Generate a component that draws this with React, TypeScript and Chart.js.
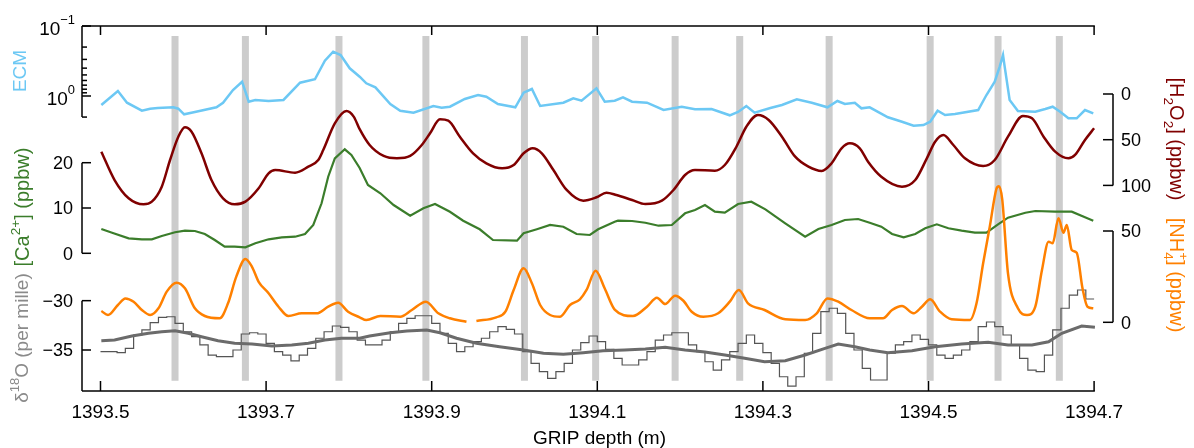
import React, { useEffect, useRef } from "react";
import { Chart, registerables } from "chart.js";

Chart.register(...registerables);

// ---------------- data ----------------
const X_TICKS = [1393.5, 1393.7, 1393.9, 1394.1, 1394.3, 1394.5, 1394.7];
const X_TICK_LABELS = ["1393.5", "1393.7", "1393.9", "1394.1", "1394.3", "1394.5", "1394.7"];
const X_TITLE = "GRIP depth (m)";

const BAND_DEPTHS = [1393.59, 1393.675, 1393.788, 1393.893, 1394.012, 1394.098, 1394.194, 1394.272, 1394.38, 1394.502, 1394.584, 1394.658];

const ECM_MAJOR_TICKS = [0.1, 1];
const ECM_MINOR_TICKS = [0.2, 0.3, 0.4, 0.5, 0.6, 0.7, 0.8, 0.9, 2];
const ECM_AXIS_RANGE = [0.1, 2];
const H2O2_TICKS = [0, 50, 100];
const CA_TICKS = [0, 10, 20];
const NH4_TICKS = [0, 50];
const D18O_TICKS = [-30, -35];

const ECM: [number, number][] = [
  [1393.501, 1.345], [1393.521, 0.849], [1393.532, 1.247], [1393.55, 1.622], [1393.56, 1.518], [1393.569, 1.484],
  [1393.588, 1.45], [1393.594, 1.518], [1393.601, 1.825], [1393.614, 1.693], [1393.64, 1.45], [1393.648, 1.247],
  [1393.66, 0.821], [1393.671, 0.625], [1393.679, 1.206], [1393.687, 1.14], [1393.703, 1.179], [1393.721, 1.14],
  [1393.741, 0.646], [1393.759, 0.577], [1393.771, 0.313], [1393.781, 0.233], [1393.79, 0.26], [1393.801, 0.402],
  [1393.813, 0.53], [1393.821, 0.659], [1393.832, 0.751], [1393.85, 1.301], [1393.862, 1.622], [1393.878, 1.733],
  [1393.902, 1.389], [1393.912, 1.469], [1393.922, 1.422], [1393.94, 1.104], [1393.956, 0.968], [1393.966, 1.023],
  [1393.98, 1.301], [1394.001, 1.45], [1394.011, 0.897], [1394.021, 0.794], [1394.031, 1.389], [1394.059, 1.247],
  [1394.071, 1.079], [1394.081, 1.167], [1394.099, 0.776], [1394.109, 1.206], [1394.121, 1.167], [1394.131, 1.044],
  [1394.142, 1.206], [1394.16, 1.247], [1394.18, 1.585], [1394.202, 1.422], [1394.218, 1.549], [1394.238, 1.533],
  [1394.26, 1.887], [1394.27, 1.693], [1394.28, 1.389], [1394.29, 1.733], [1394.309, 1.484], [1394.323, 1.345],
  [1394.341, 1.115], [1394.359, 1.247], [1394.378, 1.45], [1394.39, 1.179], [1394.399, 1.301], [1394.411, 1.247],
  [1394.419, 1.5], [1394.429, 1.45], [1394.451, 2.015], [1394.468, 2.329], [1394.482, 2.655], [1394.494, 2.596],
  [1394.502, 2.329], [1394.511, 1.622], [1394.52, 1.868], [1394.532, 1.807], [1394.56, 1.585], [1394.57, 0.968],
  [1394.58, 0.625], [1394.586, 0.381], [1394.59, 0.26], [1394.592, 0.381], [1394.598, 1.14], [1394.608, 1.637],
  [1394.629, 1.675], [1394.641, 1.533], [1394.65, 1.422], [1394.659, 1.675], [1394.669, 2.083], [1394.679, 2.083],
  [1394.689, 1.585], [1394.699, 1.767],
];

const H2O2: [number, number][] = [
  [1393.501, 63.1], [1393.517, 94.1], [1393.534, 114.1], [1393.552, 120.7], [1393.562, 117.8], [1393.574, 101.4],
  [1393.584, 72.2], [1393.594, 46.7], [1393.602, 36.4], [1393.61, 41.2], [1393.622, 64.9], [1393.634, 94.1],
  [1393.648, 114.1], [1393.662, 120.7], [1393.675, 117.8], [1393.691, 103.2], [1393.703, 86.8], [1393.711, 83.2],
  [1393.735, 86.1], [1393.751, 79.5], [1393.763, 72.2], [1393.769, 61.3], [1393.783, 32.1], [1393.797, 18.6],
  [1393.806, 25.0], [1393.813, 38.5], [1393.825, 55.8], [1393.842, 67.8], [1393.858, 70.4], [1393.874, 67.8],
  [1393.888, 55.8], [1393.898, 43.0], [1393.91, 27.7], [1393.92, 29.2], [1393.934, 46.7], [1393.95, 64.9],
  [1393.966, 75.8], [1393.985, 81.3], [1393.999, 77.7], [1394.011, 64.9], [1394.022, 59.4], [1394.033, 64.9],
  [1394.047, 83.2], [1394.063, 105.0], [1394.083, 116.7], [1394.099, 113.0], [1394.111, 108.0], [1394.123, 110.5],
  [1394.142, 116.0], [1394.158, 120.4], [1394.178, 116.7], [1394.192, 105.0], [1394.206, 88.6], [1394.218, 83.2],
  [1394.242, 83.9], [1394.254, 77.7], [1394.268, 57.7], [1394.28, 35.8], [1394.294, 23.0], [1394.307, 28.4],
  [1394.323, 46.7], [1394.339, 68.6], [1394.355, 79.5], [1394.371, 84.2], [1394.383, 75.8], [1394.395, 59.4],
  [1394.405, 53.9], [1394.417, 59.4], [1394.427, 74.1], [1394.443, 90.5], [1394.468, 101.4], [1394.484, 94.1],
  [1394.498, 70.4], [1394.508, 52.2], [1394.518, 44.9], [1394.53, 55.8], [1394.544, 70.4], [1394.566, 78.8],
  [1394.58, 72.2], [1394.596, 46.7], [1394.614, 24.1], [1394.625, 26.6], [1394.639, 46.7], [1394.653, 63.1],
  [1394.669, 70.4], [1394.677, 66.7], [1394.689, 50.3], [1394.7, 37.5],
];

const CA: [number, number][] = [
  [1393.501, 5.36], [1393.514, 4.55], [1393.534, 3.31], [1393.55, 3.09], [1393.562, 3.09], [1393.574, 3.82],
  [1393.59, 4.64], [1393.602, 4.99], [1393.614, 4.92], [1393.626, 4.26], [1393.638, 2.94], [1393.65, 1.46],
  [1393.662, 1.46], [1393.675, 1.32], [1393.687, 2.21], [1393.703, 3.09], [1393.719, 3.53], [1393.735, 3.66],
  [1393.747, 4.26], [1393.757, 6.25], [1393.767, 11.04], [1393.775, 16.91], [1393.783, 20.97], [1393.795, 22.96],
  [1393.803, 21.7], [1393.813, 18.83], [1393.823, 15.08], [1393.838, 13.25], [1393.854, 10.66], [1393.874, 8.3],
  [1393.89, 9.93], [1393.904, 10.88], [1393.922, 9.18], [1393.938, 7.2], [1393.958, 5.3], [1393.974, 2.94],
  [1394.003, 2.78], [1394.011, 4.42], [1394.027, 5.3], [1394.043, 6.25], [1394.059, 5.87], [1394.075, 4.26],
  [1394.091, 4.04], [1394.101, 5.3], [1394.121, 6.98], [1394.125, 7.2], [1394.142, 7.13], [1394.158, 6.75],
  [1394.174, 6.09], [1394.19, 6.25], [1394.206, 8.83], [1394.218, 9.56], [1394.23, 10.66], [1394.242, 9.18],
  [1394.254, 8.96], [1394.27, 10.88], [1394.286, 11.39], [1394.303, 9.71], [1394.327, 6.62], [1394.351, 3.66],
  [1394.367, 5.36], [1394.383, 6.25], [1394.399, 7.35], [1394.415, 7.57], [1394.429, 6.75], [1394.443, 5.87],
  [1394.456, 4.26], [1394.47, 3.53], [1394.484, 4.26], [1394.496, 5.52], [1394.51, 6.4], [1394.524, 5.52],
  [1394.54, 4.99], [1394.556, 4.55], [1394.57, 4.55], [1394.584, 6.4], [1394.596, 7.86], [1394.617, 8.96],
  [1394.629, 9.34], [1394.653, 9.18], [1394.673, 9.18], [1394.689, 7.95], [1394.699, 7.2],
];

const NH4: [number, number | null][] = [
  [1393.501, 6.19], [1393.509, 4.0], [1393.521, 9.47], [1393.53, 13.1], [1393.54, 11.3], [1393.55, 6.74],
  [1393.56, 4.0], [1393.57, 7.67], [1393.58, 16.8], [1393.592, 21.7], [1393.602, 18.6], [1393.614, 7.67],
  [1393.626, 3.45], [1393.644, 2.19], [1393.654, 10.4], [1393.664, 25.0], [1393.675, 34.7], [1393.683, 30.4],
  [1393.691, 22.2], [1393.703, 15.9], [1393.715, 8.54], [1393.727, 3.45], [1393.743, 4.93], [1393.761, 4.93],
  [1393.775, 8.54], [1393.787, 10.7], [1393.799, 5.8], [1393.813, 2.74], [1393.821, 1.26], [1393.838, 3.45],
  [1393.862, 3.07], [1393.876, 6.74], [1393.893, 11.3], [1393.908, 4.93], [1393.922, 2.19], [1393.942, 0.33],
  [1393.948, null],
  [1393.954, 0.71], [1393.978, 2.74], [1393.989, 5.8], [1393.999, 17.7], [1394.011, 29.6], [1394.021, 21.4],
  [1394.031, 9.47], [1394.043, 4.0], [1394.055, 3.07], [1394.067, 9.47], [1394.079, 12.6], [1394.087, 17.7],
  [1394.098, 28.3], [1394.109, 18.5], [1394.121, 7.0], [1394.143, 3.45], [1394.16, 8.54], [1394.172, 13.5],
  [1394.182, 10.0], [1394.194, 14.6], [1394.204, 11.8], [1394.214, 5.8], [1394.228, 3.07], [1394.246, 4.93],
  [1394.26, 11.3], [1394.271, 17.7], [1394.282, 10.4], [1394.302, 6.74], [1394.327, 1.64], [1394.351, 1.26],
  [1394.365, 4.93], [1394.378, 13.1], [1394.391, 11.3], [1394.407, 6.74], [1394.429, 2.19], [1394.445, 2.19],
  [1394.456, 6.74], [1394.468, 8.93], [1394.482, 4.93], [1394.492, 8.54], [1394.502, 12.6], [1394.514, 5.8],
  [1394.528, 1.64], [1394.55, 1.26], [1394.558, 10.4], [1394.566, 32.3], [1394.574, 52.4], [1394.582, 73.0],
  [1394.585, 74.5], [1394.589, 67.5], [1394.596, 26.8], [1394.608, 7.67], [1394.619, 4.0], [1394.629, 8.54],
  [1394.637, 28.5], [1394.645, 44.1], [1394.65, 43.3], [1394.657, 57.0], [1394.663, 49.1], [1394.667, 53.3],
  [1394.673, 39.6], [1394.679, 38.1], [1394.686, 18.6], [1394.692, 8.54], [1394.699, 7.67],
];

const D18O_SMOOTH: [number, number][] = [
  [1393.501, -34.06], [1393.517, -33.99], [1393.538, -33.58], [1393.558, -33.31], [1393.574, -33.15], [1393.59, -33.04],
  [1393.606, -33.31], [1393.622, -33.65], [1393.642, -34.06], [1393.662, -34.32], [1393.683, -34.39], [1393.707, -34.59],
  [1393.731, -34.49], [1393.751, -34.32], [1393.771, -33.99], [1393.791, -33.81], [1393.813, -33.81], [1393.825, -33.58],
  [1393.85, -33.25], [1393.87, -33.07], [1393.894, -32.97], [1393.91, -33.25], [1393.93, -33.81], [1393.954, -34.32],
  [1393.982, -34.67], [1394.011, -35.0], [1394.035, -35.33], [1394.059, -35.44], [1394.083, -35.27], [1394.107, -35.07],
  [1394.133, -35.0], [1394.158, -34.9], [1394.182, -34.73], [1394.206, -35.0], [1394.23, -35.2], [1394.254, -35.51],
  [1394.278, -35.84], [1394.302, -36.19], [1394.327, -36.08], [1394.351, -35.51], [1394.375, -34.83], [1394.391, -34.39],
  [1394.411, -34.67], [1394.429, -35.0], [1394.451, -35.27], [1394.48, -35.07], [1394.508, -34.67], [1394.54, -34.39],
  [1394.572, -34.22], [1394.596, -34.49], [1394.625, -34.49], [1394.645, -34.16], [1394.661, -33.31], [1394.685, -32.57],
  [1394.701, -32.7],
];

// 1 cm samples starting at 1393.50 m
const D18O_STEP_START = 1393.5;
const D18O_STEP_SIZE = 0.01;
const D18O_STEP: number[] = [
  -35.17, -35.17, -35.27, -34.83, -33.48, -32.97, -32.23, -31.69, -31.63, -32.3,
  -33.15, -33.65, -34.49, -35.51, -35.68, -35.68, -35.0, -33.38, -33.25, -33.38,
  -34.32, -35.17, -35.51, -36.11, -35.51, -34.83, -33.81, -33.15, -32.57, -32.7,
  -33.15, -33.99, -34.49, -34.49, -33.99, -33.15, -32.3, -31.79, -31.53, -31.53,
  -32.3, -33.31, -34.32, -35.17, -34.67, -34.16, -33.81, -33.15, -32.64, -32.9,
  -33.38, -35.17, -36.35, -37.2, -37.87, -37.2, -36.35, -35.0, -34.26, -33.58,
  -34.16, -34.93, -35.84, -36.52, -36.52, -36.01, -35.17, -33.99, -33.48, -33.25,
  -33.25, -34.49, -35.17, -36.19, -37.03, -36.01, -35.17, -34.32, -33.48, -34.32,
  -35.27, -36.35, -37.71, -38.65, -37.71, -35.33, -33.31, -31.12, -30.77, -31.28,
  -33.31, -35.0, -36.86, -38.04, -38.04, -35.33, -34.49, -34.16, -33.48, -33.92,
  -34.49, -35.51, -35.84, -35.51, -35.0, -34.16, -32.64, -32.16, -32.64, -33.48,
  -34.49, -35.84, -37.03, -37.2, -35.51, -32.97, -30.77, -29.43, -28.92, -29.83,
];

// ---------------- style ----------------
const FONT = '"Liberation Sans", Arial, Helvetica, sans-serif';
const C_ECM = "#6cc8f4";
const C_H2O2 = "#800000";
const C_CA = "#3b7d2b";
const C_NH4 = "#ff8000";
const C_D18O = "#6b6b6b";
const C_D18O_RAW = "#555555";
const C_D18O_TITLE = "#8a8a8a";
const C_BAND = "#cccccc";

type Seg = { t: string; s?: number; dy?: number; adv?: boolean };

function drawRich(
  ctx: CanvasRenderingContext2D,
  segs: Seg[],
  x: number,
  y: number,
  angle: number,
  size: number,
  color: string,
  align: "left" | "center" | "right" = "center"
) {
  ctx.save();
  ctx.translate(x, y);
  ctx.rotate(angle);
  ctx.fillStyle = color;
  ctx.textBaseline = "alphabetic";
  ctx.textAlign = "left";
  const widths = segs.map((sg) => {
    ctx.font = `${(sg.s ?? 1) * size}px ${FONT}`;
    return ctx.measureText(sg.t).width;
  });
  let cx = 0;
  let maxX = 0;
  const xs: number[] = [];
  segs.forEach((sg, i) => {
    xs.push(cx);
    const end = cx + widths[i];
    if (end > maxX) maxX = end;
    if (sg.adv !== false) cx = end;
  });
  const total = Math.max(cx, maxX);
  const start = align === "center" ? -total / 2 : align === "right" ? -total : 0;
  const base = size * 0.36;
  segs.forEach((sg, i) => {
    ctx.font = `${(sg.s ?? 1) * size}px ${FONT}`;
    ctx.fillText(sg.t, start + xs[i], base + (sg.dy ?? 0) * size);
  });
  ctx.restore();
}

const framePlugin = {
  id: "frame",
  afterDraw(chart: any) {
    const ctx: CanvasRenderingContext2D = chart.ctx;
    const { left: L, right: R, top: T, bottom: B } = chart.chartArea;
    const sx = chart.scales.x;
    const sE = chart.scales.yECM;
    const sH = chart.scales.yH2O2;
    const sC = chart.scales.yCa;
    const sN = chart.scales.yNH4;
    const sD = chart.scales.yD18O;
    const xEnd = sx.getPixelForValue(X_TICKS[X_TICKS.length - 1]);

    ctx.save();
    ctx.strokeStyle = "#000";
    ctx.lineWidth = 1.5;
    ctx.lineCap = "butt";
    const line = (x1: number, y1: number, x2: number, y2: number) => {
      ctx.beginPath();
      ctx.moveTo(x1, y1);
      ctx.lineTo(x2, y2);
      ctx.stroke();
    };

    // top & bottom x axes
    line(L, T, xEnd + 0.75, T);
    line(L, B, xEnd + 0.75, B);
    X_TICKS.forEach((v, i) => {
      const px = sx.getPixelForValue(v);
      line(px, T, px, T + 9);
      line(px, B, px, B - 10);
      drawRich(ctx, [{ t: X_TICK_LABELS[i] }], px, B + 20, 0, 19, "#000");
    });
    drawRich(ctx, [{ t: X_TITLE }], (L + R) / 2 + 2, B + 46, 0, 19, "#000");

    // ECM axis (left, log, reversed)
    line(L, sE.getPixelForValue(ECM_AXIS_RANGE[0]), L, sE.getPixelForValue(ECM_AXIS_RANGE[1]));
    ECM_MAJOR_TICKS.forEach((v) => {
      const py = sE.getPixelForValue(v);
      line(L, py, L + 9, py);
      const exp = Math.round(Math.log10(v));
      drawRich(
        ctx,
        [{ t: "10" }, { t: exp < 0 ? "\u2212" + Math.abs(exp) : String(exp), s: 0.68, dy: -0.55 }],
        L - 7,
        py + 2,
        0,
        19,
        "#000",
        "right"
      );
    });
    ECM_MINOR_TICKS.forEach((v) => {
      const py = sE.getPixelForValue(v);
      line(L, py, L + 5, py);
    });

    // Ca axis (left)
    line(L, sC.getPixelForValue(CA_TICKS[CA_TICKS.length - 1]), L, sC.getPixelForValue(CA_TICKS[0]));
    CA_TICKS.forEach((v) => {
      const py = sC.getPixelForValue(v);
      line(L, py, L + 9, py);
      drawRich(ctx, [{ t: String(v) }], L - 9, py, 0, 18, "#000", "right");
    });

    // d18O axis (left)
    line(L, sD.getPixelForValue(D18O_TICKS[0]), L, B);
    D18O_TICKS.forEach((v) => {
      const py = sD.getPixelForValue(v);
      line(L, py, L + 9, py);
      drawRich(ctx, [{ t: (v < 0 ? "\u2212" : "") + Math.abs(v) }], L - 9, py, 0, 18, "#000", "right");
    });

    // H2O2 axis (right, reversed)
    line(R, sH.getPixelForValue(H2O2_TICKS[0]), R, sH.getPixelForValue(H2O2_TICKS[H2O2_TICKS.length - 1]));
    H2O2_TICKS.forEach((v) => {
      const py = sH.getPixelForValue(v);
      line(R, py, R - 10, py);
      drawRich(ctx, [{ t: String(v) }], R + 8, py, 0, 18, "#000", "left");
    });

    // NH4 axis (right)
    line(R, sN.getPixelForValue(NH4_TICKS[NH4_TICKS.length - 1]), R, sN.getPixelForValue(NH4_TICKS[0]));
    NH4_TICKS.forEach((v) => {
      const py = sN.getPixelForValue(v);
      line(R, py, R - 10, py);
      drawRich(ctx, [{ t: String(v) }], R + 8, py, 0, 18, "#000", "left");
    });

    // axis titles
    drawRich(ctx, [{ t: "ECM" }], 19, 71, -Math.PI / 2, 19, C_ECM);
    drawRich(
      ctx,
      [{ t: "[Ca" }, { t: "2+", s: 0.68, dy: -0.45 }, { t: "] (ppbw)" }],
      22,
      207,
      -Math.PI / 2,
      20,
      C_CA
    );
    drawRich(
      ctx,
      [{ t: "\u03b4" }, { t: "18", s: 0.68, dy: -0.45 }, { t: "O (per mille)" }],
      21,
      338,
      -Math.PI / 2,
      19,
      C_D18O_TITLE
    );
    drawRich(
      ctx,
      [{ t: "[H" }, { t: "2", s: 0.68, dy: 0.3 }, { t: "O" }, { t: "2", s: 0.68, dy: 0.3 }, { t: "] (ppbw)" }],
      1177,
      139,
      Math.PI / 2,
      20,
      C_H2O2
    );
    drawRich(
      ctx,
      [{ t: "[NH" }, { t: "4", s: 0.68, dy: 0.3, adv: false }, { t: "+", s: 0.68, dy: -0.45 }, { t: "] (ppbw)" }],
      1177,
      275,
      Math.PI / 2,
      20,
      C_NH4
    );
    ctx.restore();
  },
};

export default function App() {
  const canvasRef = useRef<HTMLCanvasElement | null>(null);

  useEffect(() => {
    const canvas = canvasRef.current;
    if (!canvas) return;

    const bandData: { x: number; y: number | null }[] = [];
    BAND_DEPTHS.forEach((d) => {
      bandData.push({ x: d, y: 0.9726 });
      bandData.push({ x: d, y: 0.0282 });
      bandData.push({ x: d, y: null });
    });

    const stepData = D18O_STEP.map((v, i) => ({ x: D18O_STEP_START + i * D18O_STEP_SIZE, y: v }));
    stepData.push({ x: D18O_STEP_START + D18O_STEP.length * D18O_STEP_SIZE, y: D18O_STEP[D18O_STEP.length - 1] });

    const toXY = (arr: [number, number | null][]) => arr.map(([x, y]) => ({ x, y }));

    const common = { pointRadius: 0, pointHoverRadius: 0, fill: false, spanGaps: false };

    const chart = new Chart(canvas, {
      type: "line",
      data: {
        datasets: [
          { ...common, label: "ECM", data: toXY(ECM), yAxisID: "yECM", borderColor: C_ECM, borderWidth: 2.5, tension: 0 },
          { ...common, label: "H2O2", data: toXY(H2O2), yAxisID: "yH2O2", borderColor: C_H2O2, borderWidth: 2.5, cubicInterpolationMode: "monotone" },
          { ...common, label: "NH4", data: toXY(NH4), yAxisID: "yNH4", borderColor: C_NH4, borderWidth: 2.5, cubicInterpolationMode: "monotone" },
          { ...common, label: "Ca", data: toXY(CA), yAxisID: "yCa", borderColor: C_CA, borderWidth: 2.2, tension: 0 },
          { ...common, label: "d18O smooth", data: toXY(D18O_SMOOTH), yAxisID: "yD18O", borderColor: C_D18O, borderWidth: 3, tension: 0 },
          { ...common, label: "d18O", data: stepData, yAxisID: "yD18O", borderColor: C_D18O_RAW, borderWidth: 1.2, stepped: true, tension: 0 },
          { ...common, label: "bands", data: bandData, yAxisID: "yBand", borderColor: C_BAND, borderWidth: 7, borderCapStyle: "butt", tension: 0 },
        ] as any,
      },
      options: {
        animation: false,
        responsive: false,
        maintainAspectRatio: false,
        events: [],
        layout: { padding: { left: 82, right: 81, top: 26, bottom: 57 } },
        plugins: { legend: { display: false }, tooltip: { enabled: false } },
        scales: {
          x: { type: "linear", display: false, min: 1393.47766, max: 1394.72283 },
          yECM: { type: "logarithmic", display: false, reverse: true, min: 0.1, max: 16384 },
          yH2O2: { type: "linear", display: false, reverse: true, min: -74.4, max: 324.95 },
          yCa: { type: "linear", display: false, min: -30.4, max: 50.18 },
          yNH4: { type: "linear", display: false, min: -37.62, max: 162.27 },
          yD18O: { type: "linear", display: false, min: -39.154, max: -2.17 },
          yBand: { type: "linear", display: false, min: 0, max: 1 },
        },
      } as any,
      plugins: [framePlugin],
    });

    return () => chart.destroy();
  }, []);

  return (
    <div style={{ position: "fixed", left: 0, top: 0, width: 1194, height: 448, background: "#fff" }}>
      <canvas ref={canvasRef} width={1194} height={448} style={{ display: "block" }} />
    </div>
  );
}
